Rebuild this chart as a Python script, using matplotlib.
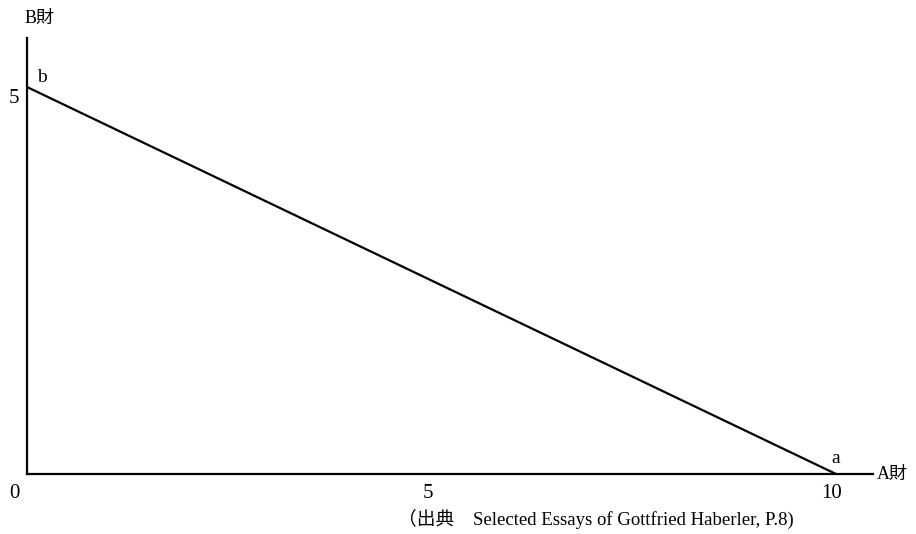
import matplotlib
matplotlib.use("Agg")
import matplotlib.pyplot as plt

plt.rcParams['font.family'] = ['Liberation Serif', 'Noto Sans CJK JP']

# data
good_a = [0, 10]
good_b = [5, 0]
x_ticks = [0, 5, 10]
y_ticks = [5]
point_labels = ['b', 'a']
source = '（出典　Selected Essays of Gottfried Haberler, P.8)'

W, H = 916, 534
fig = plt.figure(figsize=(W / 100, H / 100), dpi=100)
# origin at (27, 474) px, x=10 at 836 px, y=5 at 87 px
x0, y0 = 27, 474
sx = (836 - 27) / 10
sy = (474 - 87) / 5
xmax = (873 - x0) / sx
ymax = (y0 - 38) / sy
ax = fig.add_axes([x0 / W, (H - y0) / H, (873 - x0) / W, (y0 - 38) / H])
ax.set_xlim(0, xmax)
ax.set_ylim(0, ymax)

for s in ['top', 'right']:
    ax.spines[s].set_visible(False)
for s in ['left', 'bottom']:
    ax.spines[s].set_linewidth(1.6)
ax.set_xticks([])
ax.set_yticks([])

ax.plot(good_a, good_b, color='black', lw=1.6, solid_capstyle='butt', clip_on=False)

fs = 15
ax.text(-0.16, -0.25, str(x_ticks[0]), ha='center', va='center', fontsize=fs)
for t in x_ticks[1:]:
    ax.text(t - 0.05, -0.25, str(t), ha='center', va='center', fontsize=fs)
for t in y_ticks:
    ax.text(-0.16, t - 0.15, str(t), ha='center', va='center', fontsize=fs)

ax.text(good_a[0] + 0.18, good_b[0] + 0.12, point_labels[0], ha='center', va='center', fontsize=14)
ax.text(good_a[1] + 0.0, good_b[1] + 0.2, point_labels[1], ha='center', va='center', fontsize=14)

ax.text(xmax + 0.05, 0, 'A財', ha='left', va='center', fontsize=13, clip_on=False)
ax.text(0.15, ymax + 0.25, 'B財', ha='center', va='center', fontsize=13, clip_on=False)

fig.text(398 / W, 1 - 519 / H, source, ha='left', va='center', fontsize=13.5)

fig.savefig('out.png', dpi=100)
